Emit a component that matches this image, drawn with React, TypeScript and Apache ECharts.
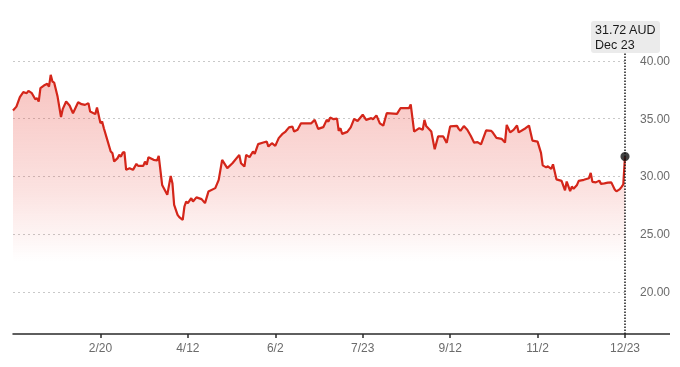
import React, { useEffect, useRef } from "react";
import * as echarts from "echarts";

const dates = [
  "2024-12-31", "2025-01-02", "2025-01-04", "2025-01-06", "2025-01-08", "2025-01-09", "2025-01-11", "2025-01-13",
  "2025-01-14", "2025-01-15", "2025-01-16", "2025-01-18", "2025-01-20", "2025-01-21", "2025-01-22", "2025-01-23",
  "2025-01-24", "2025-01-26", "2025-01-28", "2025-01-29", "2025-01-31", "2025-02-02", "2025-02-04", "2025-02-07",
  "2025-02-09", "2025-02-11", "2025-02-13", "2025-02-14", "2025-02-17", "2025-02-18", "2025-02-20", "2025-02-21",
  "2025-02-22", "2025-02-24", "2025-02-26", "2025-02-27", "2025-02-28", "2025-03-02", "2025-03-03", "2025-03-04",
  "2025-03-05", "2025-03-06", "2025-03-07", "2025-03-09", "2025-03-11", "2025-03-13", "2025-03-14", "2025-03-17",
  "2025-03-18", "2025-03-19", "2025-03-20", "2025-03-23", "2025-03-25", "2025-03-26", "2025-03-28", "2025-03-31",
  "2025-04-02", "2025-04-03", "2025-04-04", "2025-04-06", "2025-04-07", "2025-04-09", "2025-04-10", "2025-04-11",
  "2025-04-12", "2025-04-14", "2025-04-15", "2025-04-17", "2025-04-20", "2025-04-22", "2025-04-24", "2025-04-28",
  "2025-04-30", "2025-05-02", "2025-05-05", "2025-05-08", "2025-05-12", "2025-05-13", "2025-05-15", "2025-05-16",
  "2025-05-18", "2025-05-20", "2025-05-21", "2025-05-23", "2025-05-26", "2025-05-28", "2025-05-29", "2025-05-31",
  "2025-06-02", "2025-06-04", "2025-06-06", "2025-06-08", "2025-06-10", "2025-06-12", "2025-06-13", "2025-06-15",
  "2025-06-17", "2025-06-23", "2025-06-25", "2025-06-27", "2025-06-30", "2025-07-02", "2025-07-03", "2025-07-04",
  "2025-07-06", "2025-07-08", "2025-07-09", "2025-07-10", "2025-07-11", "2025-07-14", "2025-07-16", "2025-07-18",
  "2025-07-20", "2025-07-23", "2025-07-25", "2025-07-28", "2025-07-29", "2025-07-31", "2025-08-02", "2025-08-04",
  "2025-08-06", "2025-08-12", "2025-08-14", "2025-08-19", "2025-08-20", "2025-08-22", "2025-08-25", "2025-08-27",
  "2025-08-28", "2025-08-29", "2025-09-01", "2025-09-03", "2025-09-05", "2025-09-08", "2025-09-10", "2025-09-12",
  "2025-09-16", "2025-09-17", "2025-09-18", "2025-09-20", "2025-09-22", "2025-09-24", "2025-09-26", "2025-09-28",
  "2025-09-30", "2025-10-03", "2025-10-06", "2025-10-07", "2025-10-09", "2025-10-12", "2025-10-14", "2025-10-15",
  "2025-10-17", "2025-10-19", "2025-10-21", "2025-10-22", "2025-10-26", "2025-10-28", "2025-10-30", "2025-11-02",
  "2025-11-04", "2025-11-05", "2025-11-07", "2025-11-08", "2025-11-10", "2025-11-11", "2025-11-13", "2025-11-16",
  "2025-11-18", "2025-11-19", "2025-11-21", "2025-11-22", "2025-11-23", "2025-11-25", "2025-11-26", "2025-11-29",
  "2025-12-02", "2025-12-03", "2025-12-04", "2025-12-06", "2025-12-08", "2025-12-09", "2025-12-11", "2025-12-13",
  "2025-12-15", "2025-12-17", "2025-12-18", "2025-12-20", "2025-12-21", "2025-12-22", "2025-12-23",
];

const prices = [
  35.7, 36.04, 36.86, 37.29, 37.2, 37.4, 37.2, 36.68,
  36.77, 36.48, 37.64, 37.86, 38.01, 37.77, 38.79, 38.21,
  38.12, 36.91, 35.13, 35.82, 36.48, 36.13, 35.47, 36.42,
  36.25, 36.19, 36.34, 35.61, 35.39, 35.96, 34.61, 34.74,
  34.17, 33.16, 32.15, 32.01, 31.28, 31.58, 31.86, 31.71,
  32.06, 32.1, 30.56, 30.71, 30.56, 31.08, 30.91, 30.91,
  31.28, 31.0, 31.66, 31.43, 31.37, 31.77, 29.26, 28.4,
  30.04, 29.41, 27.53, 26.67, 26.47, 26.23, 27.39, 27.82,
  27.68, 28.11, 27.82, 28.18, 28.03, 27.68, 28.68, 28.98,
  29.7, 31.43, 30.71, 31.14, 31.86, 31.14, 30.85, 31.86,
  31.66, 32.15, 31.95, 32.79, 32.93, 33.01, 32.58, 32.87,
  32.64, 33.31, 33.65, 33.88, 34.24, 34.31, 33.88, 34.03,
  34.59, 34.59, 34.89, 34.11, 34.26, 34.89, 34.74, 35.09,
  34.95, 35.0, 33.94, 34.17, 33.68, 33.85, 34.24, 34.98,
  34.79, 35.34, 34.89, 35.04, 34.95, 35.28, 34.59, 34.39,
  35.47, 35.41, 35.9, 35.9, 36.23, 33.88, 34.17, 34.03,
  34.89, 34.37, 33.88, 32.34, 33.46, 33.46, 32.9, 34.33,
  34.37, 34.11, 33.94, 34.35, 34.03, 33.51, 32.92, 32.96,
  32.77, 33.98, 33.94, 33.77, 33.33, 33.25, 32.93, 34.46,
  33.81, 34.03, 34.4, 33.81, 34.17, 34.4, 33.1, 33.01,
  32.03, 30.95, 30.78, 30.87, 30.65, 31.04, 29.74, 29.61,
  28.79, 29.55, 28.73, 29.12, 28.92, 29.26, 29.61, 29.7,
  29.84, 30.3, 29.52, 29.48, 29.63, 29.35, 29.39, 29.46,
  29.48, 28.87, 28.7, 28.89, 29.09, 29.3, 31.72,
];

const xTickDates = ["2025-02-20", "2025-04-12", "2025-06-02", "2025-07-23", "2025-09-12", "2025-11-02", "2025-12-23"];
const yTicks = [20, 25, 30, 35, 40];
const currency = "AUD";
const monthNames = ["Jan", "Feb", "Mar", "Apr", "May", "Jun", "Jul", "Aug", "Sep", "Oct", "Nov", "Dec"];

const FONT = "'Liberation Sans', Arial, Helvetica, sans-serif";
const GRID_LEFT = 13;
const GRID_RIGHT = 55;
const GRID_TOP = 32;
const GRID_BOTTOM = 33;
const W = 680;
const H = 367;

const ts = (s: string) => {
  const [y, m, d] = s.split("-").map(Number);
  return Date.UTC(y, m - 1, d);
};

export default function App() {
  const ref = useRef<HTMLDivElement>(null);

  useEffect(() => {
    if (!ref.current) return;
    const chart = echarts.init(ref.current, undefined, { renderer: "svg" });
    const data = dates.map((d, i) => [ts(d), prices[i]]);
    const lastTs = ts(dates[dates.length - 1]);
    const lastVal = prices[prices.length - 1];
    const xTicks = xTickDates.map(ts);

    chart.setOption({
      animation: false,
      grid: { left: GRID_LEFT, right: GRID_RIGHT, top: GRID_TOP, bottom: GRID_BOTTOM, containLabel: false },
      xAxis: {
        type: "value",
        min: ts(dates[0]),
        max: lastTs,
        axisLine: { show: true, lineStyle: { color: "#2a2a2a", width: 1.5 } },
        axisTick: { show: true, length: 4, customValues: xTicks, lineStyle: { color: "#2a2a2a", width: 1.5 } },
        axisLabel: {
          customValues: xTicks,
          margin: 8,
          color: "#6b6b6b",
          fontSize: 12,
          fontFamily: FONT,
          formatter: (v: number) => {
            const d = new Date(v);
            return `${d.getUTCMonth() + 1}/${d.getUTCDate()}`;
          },
        },
        splitLine: { show: false },
      },
      yAxis: {
        type: "value",
        position: "right",
        min: 16.35,
        max: 42.5,
        axisLine: { show: false },
        axisTick: { show: false, customValues: yTicks },
        axisLabel: {
          customValues: yTicks,
          align: "right",
          margin: 45,
          color: "#6b6b6b",
          fontSize: 12,
          fontFamily: FONT,
          formatter: (v: number) => v.toFixed(2),
        },
        splitLine: { show: true, lineStyle: { color: "#c9c9c9", type: [2, 3], width: 1 } },
      },
      series: [
        {
          type: "line",
          data,
          symbol: "none",
          lineStyle: { color: "#d4261a", width: 2.2 },
          areaStyle: {
            color: new echarts.graphic.LinearGradient(0, 0, 0, 1, [
              { offset: 0, color: "rgba(232,70,60,0.46)" },
              { offset: 0.45, color: "rgba(232,70,60,0.22)" },
              { offset: 0.72, color: "rgba(232,70,60,0)" },
            ]),
          },
          z: 3,
        },
        {
          type: "scatter",
          data: [[lastTs, lastVal]],
          symbol: "circle",
          symbolSize: 9,
          itemStyle: { color: "#111" },
          z: 5,
          markLine: {
            silent: true,
            symbol: "none",
            label: { show: false },
            lineStyle: { type: "dotted", color: "#1a1a1a", width: 1.5 },
            data: [{ xAxis: lastTs }],
          },
        },
      ],
    });

    const [px] = chart.convertToPixel({ xAxisIndex: 0, yAxisIndex: 0 }, [lastTs, lastVal]) as number[];
    const d = new Date(lastTs);
    const dateLabel = `${monthNames[d.getUTCMonth()]} ${d.getUTCDate()}`;
    const axisY = H - GRID_BOTTOM;

    chart.setOption({
      graphic: [
        {
          type: "line",
          shape: { x1: W - GRID_RIGHT, y1: axisY, x2: W - 10, y2: axisY },
          style: { stroke: "#2a2a2a", lineWidth: 1.5 },
          z: 100,
        },
        {
          type: "rect",
          shape: { x: px - 34, y: 21, width: 69, height: 32, r: 3 },
          style: { fill: "#ebebeb" },
          z: 100,
          zlevel: 1,
        },
        {
          type: "text",
          x: px - 30,
          y: 30,
          z: 101,
          zlevel: 1,
          style: {
            text: `${lastVal.toFixed(2)} ${currency}`,
            fill: "#1a1a1a",
            font: `12.5px ${FONT}`,
            verticalAlign: "middle",
            align: "left",
          },
        },
        {
          type: "text",
          x: px - 30,
          y: 45,
          z: 101,
          zlevel: 1,
          style: {
            text: dateLabel,
            fill: "#1a1a1a",
            font: `12.5px ${FONT}`,
            verticalAlign: "middle",
            align: "left",
          },
        },
      ],
    });

    return () => chart.dispose();
  }, []);

  return <div ref={ref} style={{ position: "fixed", left: 0, top: 0, width: W, height: H }} />;
}
